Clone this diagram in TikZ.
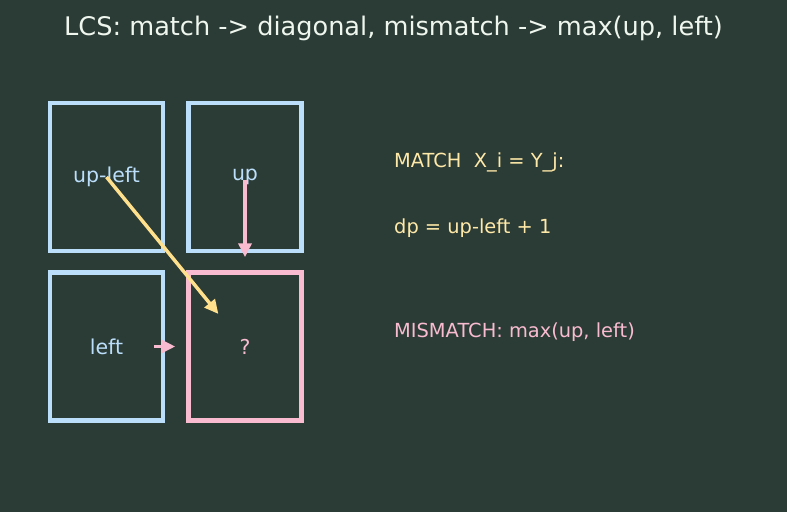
\documentclass[tikz,border=0pt]{standalone}
\usepackage{fontspec}
\setmainfont{DejaVu Sans}
\usetikzlibrary{positioning,arrows.meta}
\definecolor{bgdark}{HTML}{2B3B35}
\definecolor{cellblue}{HTML}{BBDEFB}
\definecolor{cellpink}{HTML}{F8BBD0}
\definecolor{diagyellow}{HTML}{FFE08C}
\definecolor{notetext}{HTML}{FFE9A8}
\definecolor{titletext}{HTML}{EEF6EE}
\tikzset{
  cell/.style={
    draw=cellblue, line width=4.5pt,
    minimum width=113pt, minimum height=148pt,
    text=cellblue, font=\fontsize{20.5}{24}\selectfont
  },
  target/.style={cell, draw=cellpink, text=cellpink},
  note/.style={anchor=west, inner sep=0pt, font=\fontsize{19.4}{23}\selectfont},
  arrow/.style={-{Triangle[length=14pt,width=13pt]}, line width=3.5pt}
}
\begin{document}
\begin{tikzpicture}[x=1pt, y=-1pt, node distance=17pt and 21pt]
  \fill[bgdark] (0,0) rectangle (787,512);
  \useasboundingbox (0,0) rectangle (787,512);

  \node[font=\fontsize{25.6}{30}\selectfont, text=titletext] (title) at (393.5,28)
       {LCS: match -> diagonal, mismatch -> max(up, left)};

  % the four dp cells
  \node[cell] (ul) at (106.5,177) {up-left};
  \node[cell, right=of ul] (up) {up};
  \node[cell, below=of ul] (lf) {left};
  \node[target, below=of up] (q) {?};

  \draw[arrow, diagyellow, shorten >=42pt] (ul.center) -- (q.center);
  \draw[arrow, cellpink, shorten <=3pt, shorten >=-4pt] (up.center) -- (up.south);
  \draw[arrow, cellpink] ([xshift=-11pt]lf.east) -- ([xshift=-11pt]q.west);

  % rules
  \node[note, text=notetext] (match) at (394,162) {MATCH\ \ X\_i = Y\_j:};
  \node[note, text=notetext] (rule) at (394,228) {dp = up-left + 1};
  \node[note, text=cellpink] (mismatch) at (394,332) {MISMATCH: max(up, left)};
\end{tikzpicture}
\end{document}
